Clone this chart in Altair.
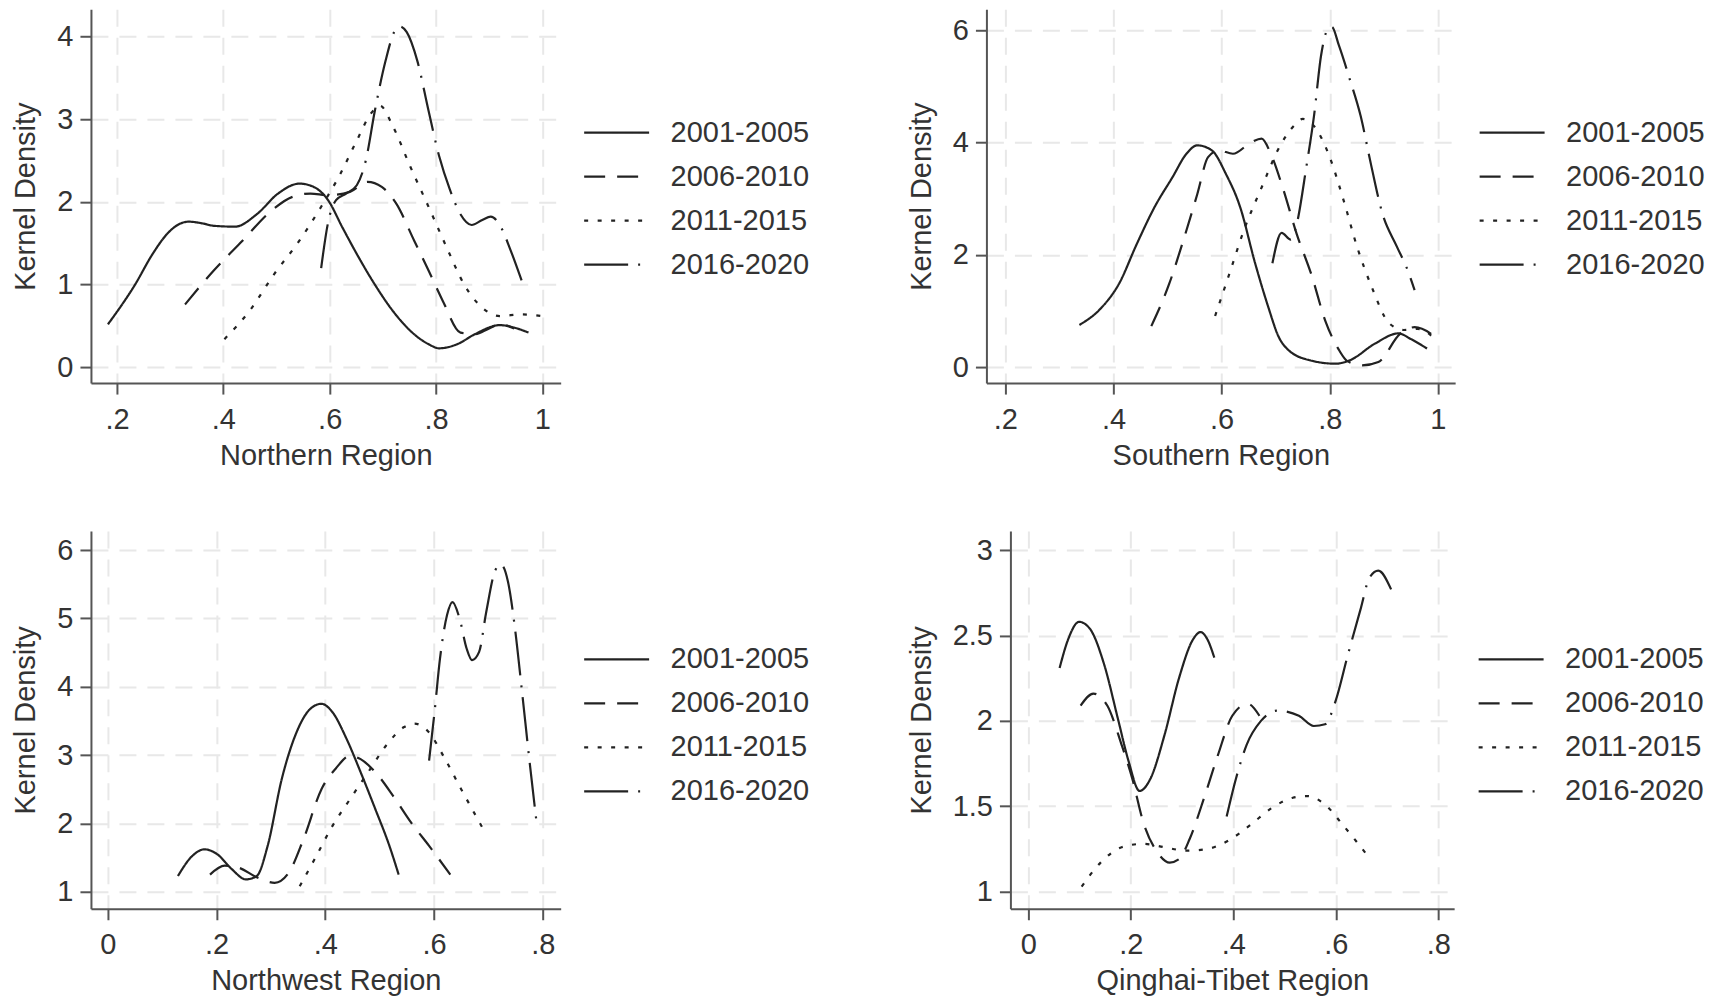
import altair as alt
import pandas as pd

PERIODS = ["2001-2005", "2006-2010", "2011-2015", "2016-2020"]

# ---------------- Northern Region ----------------
N1_x = [0.183, 0.234, 0.267, 0.294, 0.314, 0.335, 0.36, 0.382, 0.422, 0.463, 0.503, 0.543, 0.57, 0.597, 0.624, 0.651, 0.685, 0.719, 0.752, 0.786, 0.806, 0.84, 0.873, 0.92, 0.947, 0.974]
N1_y = [0.52, 1.0, 1.37, 1.61, 1.72, 1.76, 1.74, 1.71, 1.70, 1.85, 2.10, 2.22, 2.18, 2.02, 1.69, 1.37, 1.00, 0.68, 0.44, 0.28, 0.23, 0.28, 0.40, 0.51, 0.48, 0.42]
N2_x = [0.328, 0.382, 0.436, 0.49, 0.53, 0.564, 0.597, 0.638, 0.671, 0.698, 0.725, 0.759, 0.786, 0.813, 0.846, 0.873, 0.9, 0.92, 0.947]
N2_y = [0.76, 1.17, 1.53, 1.89, 2.06, 2.10, 2.08, 2.12, 2.24, 2.18, 1.98, 1.53, 1.17, 0.80, 0.42, 0.40, 0.47, 0.52, 0.47]
N3_x = [0.402, 0.449, 0.496, 0.543, 0.584, 0.617, 0.651, 0.678, 0.695, 0.719, 0.752, 0.786, 0.82, 0.853, 0.887, 0.92, 0.961, 0.998]
N3_y = [0.34, 0.68, 1.13, 1.53, 1.94, 2.30, 2.74, 3.07, 3.16, 2.91, 2.42, 1.94, 1.45, 1.00, 0.72, 0.62, 0.64, 0.62]
N4_x = [0.584, 0.597, 0.612, 0.631, 0.651, 0.668, 0.685, 0.705, 0.722, 0.732, 0.745, 0.765, 0.786, 0.806, 0.826, 0.846, 0.867, 0.887, 0.903, 0.92, 0.94, 0.961]
N4_y = [1.2, 1.75, 2.02, 2.1, 2.2, 2.5, 3.1, 3.7, 4.06, 4.12, 4.05, 3.7, 3.1, 2.55, 2.15, 1.85, 1.72, 1.78, 1.82, 1.72, 1.42, 1.05]

# ---------------- Southern Region ----------------
S1_x = [0.337, 0.378, 0.41, 0.443, 0.476, 0.509, 0.535, 0.555, 0.582, 0.608, 0.634, 0.662, 0.687, 0.705, 0.724, 0.764, 0.811, 0.837, 0.884, 0.927, 0.95, 0.98]
S1_y = [0.75, 1.06, 1.48, 2.19, 2.85, 3.38, 3.80, 3.95, 3.86, 3.44, 2.86, 1.85, 1.05, 0.55, 0.30, 0.12, 0.06, 0.12, 0.42, 0.60, 0.50, 0.33]
S2_x = [0.47, 0.503, 0.529, 0.555, 0.575, 0.595, 0.621, 0.654, 0.674, 0.691, 0.713, 0.739, 0.766, 0.792, 0.818, 0.832, 0.86, 0.89, 0.93, 0.957, 0.997]
S2_y = [0.73, 1.48, 2.25, 3.08, 3.74, 3.86, 3.80, 4.0, 4.07, 3.8, 3.2, 2.37, 1.65, 0.82, 0.29, 0.11, 0.03, 0.09, 0.59, 0.71, 0.53]
S3_x = [0.588, 0.614, 0.641, 0.674, 0.707, 0.734, 0.75, 0.773, 0.8, 0.826, 0.851, 0.878, 0.91, 0.937, 0.963, 0.997]
S3_y = [0.91, 1.65, 2.43, 3.20, 3.92, 4.30, 4.42, 4.27, 3.74, 2.96, 2.13, 1.42, 0.78, 0.66, 0.68, 0.48]
S4_x = [0.694, 0.711, 0.728, 0.738, 0.757, 0.771, 0.784, 0.797, 0.804, 0.817, 0.837, 0.857, 0.877, 0.897, 0.924, 0.944, 0.957]
S4_y = [1.85, 2.39, 2.27, 2.51, 3.58, 4.48, 5.55, 6.03, 6.06, 5.73, 5.13, 4.48, 3.58, 2.75, 2.15, 1.73, 1.37]

# ---------------- Northwest Region ----------------
W1_x = [0.129, 0.155, 0.178, 0.201, 0.228, 0.254, 0.274, 0.294, 0.32, 0.347, 0.373, 0.393, 0.413, 0.439, 0.465, 0.492, 0.518, 0.535]
W1_y = [1.23, 1.52, 1.62, 1.55, 1.33, 1.18, 1.23, 1.67, 2.65, 3.33, 3.68, 3.75, 3.63, 3.24, 2.75, 2.21, 1.67, 1.25]
W2_x = [0.188, 0.215, 0.241, 0.274, 0.307, 0.333, 0.36, 0.393, 0.419, 0.446, 0.465, 0.492, 0.525, 0.558, 0.591, 0.63]
W2_y = [1.25, 1.38, 1.35, 1.21, 1.13, 1.28, 1.77, 2.50, 2.80, 2.99, 2.94, 2.75, 2.40, 2.01, 1.67, 1.25]
W3_x = [0.353, 0.38, 0.413, 0.446, 0.479, 0.512, 0.545, 0.564, 0.591, 0.617, 0.65, 0.677, 0.696]
W3_y = [1.08, 1.47, 1.96, 2.36, 2.75, 3.14, 3.41, 3.46, 3.33, 2.99, 2.50, 2.11, 1.84]
W4_x = [0.591, 0.601, 0.611, 0.624, 0.634, 0.647, 0.66, 0.67, 0.683, 0.696, 0.713, 0.723, 0.736, 0.749, 0.762, 0.776, 0.789]
W4_y = [2.92, 3.63, 4.41, 5.05, 5.24, 5.0, 4.56, 4.39, 4.51, 5.09, 5.71, 5.79, 5.54, 4.85, 3.92, 2.89, 1.99]

# ---------------- Qinghai-Tibet Region ----------------
Q1_x = [0.061, 0.078, 0.099, 0.12, 0.148, 0.175, 0.196, 0.217, 0.238, 0.266, 0.294, 0.322, 0.336, 0.349, 0.363]
Q1_y = [2.31, 2.48, 2.58, 2.54, 2.33, 2.01, 1.76, 1.59, 1.66, 1.92, 2.25, 2.48, 2.52, 2.48, 2.37]
Q2_x = [0.102, 0.127, 0.154, 0.182, 0.203, 0.224, 0.252, 0.276, 0.294, 0.315, 0.342, 0.37, 0.398, 0.428, 0.451]
Q2_y = [2.09, 2.16, 2.09, 1.86, 1.66, 1.41, 1.23, 1.17, 1.19, 1.31, 1.54, 1.80, 2.03, 2.10, 2.03]
Q3_x = [0.104, 0.141, 0.182, 0.224, 0.266, 0.308, 0.349, 0.391, 0.433, 0.475, 0.516, 0.544, 0.579, 0.614, 0.665]
Q3_y = [1.03, 1.17, 1.26, 1.28, 1.26, 1.24, 1.25, 1.30, 1.39, 1.49, 1.55, 1.56, 1.51, 1.39, 1.20]
Q4_x = [0.387, 0.405, 0.426, 0.454, 0.486, 0.528, 0.557, 0.579, 0.6, 0.623, 0.648, 0.666, 0.683, 0.708]
Q4_y = [1.44, 1.66, 1.86, 2.0, 2.06, 2.03, 1.97, 1.98, 2.12, 2.38, 2.65, 2.84, 2.88, 2.77]

# tick values
N_xticks = [0.2, 0.4, 0.6, 0.8, 1.0]
N_yticks = [0, 1, 2, 3, 4]
S_xticks = [0.2, 0.4, 0.6, 0.8, 1.0]
S_yticks = [0, 2, 4, 6]
W_xticks = [0, 0.2, 0.4, 0.6, 0.8]
W_yticks = [1, 2, 3, 4, 5, 6]
Q_xticks = [0, 0.2, 0.4, 0.6, 0.8]
Q_yticks = [1, 1.5, 2, 2.5, 3]

DASHES = [[1, 0], [21, 12], [4, 9.5], [44, 10, 2, 10]]
INK = "#222222"
FONT = "Liberation Sans"
LBL = "datum.value > 0 && datum.value < 1 ? replace(format(datum.value, '.1f'), '0.', '.') : format(datum.value, '~g')"


def panel(series, xdom, ydom, xvals, yvals, w, h, xtitle, lx, ly):
    rows = []
    for p, (xs, ys) in zip(PERIODS, series):
        for xv, yv in zip(xs, ys):
            rows.append({"period": p, "x": xv, "y": yv})
    df = pd.DataFrame(rows)
    return alt.Chart(df).mark_line(
        interpolate="monotone", color=INK, strokeWidth=2.2, clip=True
    ).encode(
        x=alt.X("x:Q", scale=alt.Scale(domain=xdom, nice=False, zero=False),
                axis=alt.Axis(values=xvals, title=xtitle, labelExpr=LBL)),
        y=alt.Y("y:Q", scale=alt.Scale(domain=ydom, nice=False, zero=False),
                axis=alt.Axis(values=yvals, title="Kernel Density", labelExpr=LBL)),
        strokeDash=alt.StrokeDash(
            "period:N",
            scale=alt.Scale(domain=PERIODS, range=DASHES),
            legend=alt.Legend(orient="none", legendX=lx, legendY=ly, title=None),
        ),
    ).properties(width=w, height=h)


p1 = panel([(N1_x, N1_y), (N2_x, N2_y), (N3_x, N3_y), (N4_x, N4_y)],
           [0.151, 1.0345], [-0.19, 4.326], N_xticks, N_yticks, 470, 374, "Northern Region", 492, 109)
p2 = panel([(S1_x, S1_y), (S2_x, S2_y), (S3_x, S3_y), (S4_x, S4_y)],
           [0.165, 1.032], [-0.285, 6.374], S_xticks, S_yticks, 469, 374, "Southern Region", 492, 109)
p3 = panel([(W1_x, W1_y), (W2_x, W2_y), (W3_x, W3_y), (W4_x, W4_y)],
           [-0.031, 0.833], [0.75, 6.28], W_xticks, W_yticks, 470, 378, "Northwest Region", 492, 114)
p4 = panel([(Q1_x, Q1_y), (Q2_x, Q2_y), (Q3_x, Q3_y), (Q4_x, Q4_y)],
           [-0.035, 0.831], [0.9, 3.112], Q_xticks, Q_yticks, 444, 378, "Qinghai-Tibet Region", 467, 114)

row1 = alt.hconcat(p1, p2, spacing=97).resolve_scale(strokeDash="independent")
row2 = alt.hconcat(p3, p4, spacing=97).resolve_scale(strokeDash="independent")

chart = alt.vconcat(row1, row2, spacing=61).resolve_scale(
    strokeDash="independent"
).properties(
    padding={"left": 3, "top": 1, "right": 0, "bottom": 0},
    background="white",
).configure(font=FONT).configure_view(strokeWidth=0).configure_axis(
    domainColor="#555555", domainWidth=2,
    tickColor="#555555", tickWidth=2, tickSize=11,
    labelFont=FONT, labelFontSize=29, labelColor="#333333",
    titleFont=FONT, titleFontSize=29, titleFontWeight="normal", titleColor="#333333",
    grid=True, gridColor="#e8e8e8", gridDash=[17, 11], gridWidth=2,
).configure_axisX(labelPadding=11, titlePadding=7).configure_axisY(
    labelPadding=7, titlePadding=16
).configure_legend(
    symbolType="stroke", symbolSize=4225, symbolStrokeWidth=2.2, symbolStrokeColor=INK,
    labelFont=FONT, labelFontSize=29, labelColor="#333333", labelOffset=20,
    clipHeight=29, rowPadding=14, padding=0, labelLimit=300,
)

chart.save("out.html", embed_options={"renderer": "svg", "actions": False})
